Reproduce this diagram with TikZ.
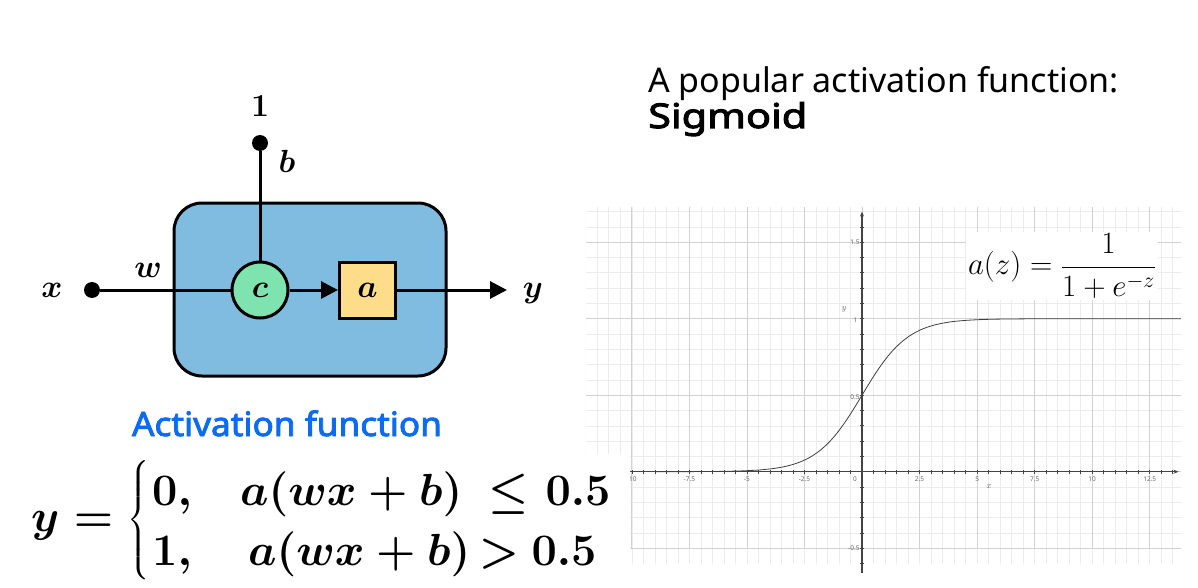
\RequirePackage{fix-cm}
\documentclass[tikz,border=0pt]{standalone}
\usepackage[no-math]{fontspec}
\usepackage{amsmath}
\usetikzlibrary{arrows.meta}
\newfontfamily\uisans{Noto Sans}
\newfontfamily\uisansb{Noto Sans}[FakeBold=2.5,FakeStretch=1.05]
\newfontfamily\uisansw{Noto Sans}[FakeBold=3,FakeStretch=1.22]
\definecolor{boxblue}{HTML}{80BCE0}
\definecolor{cgreen}{HTML}{7EE3AE}
\definecolor{ayellow}{HTML}{FEDD8A}
\definecolor{actblue}{HTML}{0A6CF5}
\definecolor{gridminor}{HTML}{ECECEC}
\definecolor{gridmajor}{HTML}{D2D2D2}
\definecolor{axisgray}{HTML}{444444}
\definecolor{labgray}{HTML}{666666}
\tikzset{
  wire/.style={line width=3pt, draw=black},
  dotnode/.style={circle, fill=black, inner sep=0pt, minimum size=16pt},
  mlabel/.style={inner sep=0pt, font=\fontsize{32}{38}\selectfont\boldmath},
  eqpart/.style={inner sep=0pt, anchor=base, font=\fontsize{45}{54}\selectfont\boldmath},
  ticklab/.style={inner sep=0pt, font=\uisans\fontsize{6.5}{8}\selectfont, text=labgray},
  arrowtip/.style={-{Triangle[length=17pt,width=17pt]}}
}
\begin{document}
\begin{tikzpicture}[x=1pt,y=-1pt]
\useasboundingbox (0,0) rectangle (1198,588);
\fill[white] (0,0) rectangle (1198,588);
% ---------------- graph ----------------
\begin{scope}[shift={(862,471.7)}, x=23.02pt, y=153pt]
  \clip (-12,-0.66) rectangle (13.85,1.73);
  \draw[gridminor, line width=0.6pt] (-12,-0.6) grid[xstep=0.5, ystep=0.1] (13.85,1.73);
  \draw[gridmajor, line width=0.7pt] (-12,-0.5) grid[xstep=2.5, ystep=0.5] (13.85,1.73);
  \draw[axisgray, line width=1.1pt, -{Stealth[length=5pt,width=4pt]}] (-12,0) -- (13.75,0);
  \draw[axisgray, line width=1.1pt, -{Stealth[length=5pt,width=4pt]}] (0,-0.7) -- (0,1.7);
  \foreach \u in {-11.5,-11,...,13.5} \draw[axisgray, line width=0.6pt] (\u,-0.012) -- (\u,0.012);
  \foreach \v in {-0.6,-0.5,...,1.65} \draw[axisgray, line width=0.6pt] (-0.07,\v) -- (0.07,\v);
  \draw[black!75, line width=0.8pt, domain=-9:13.85, samples=160, smooth] plot (\x,{1/(1+exp(-\x))});
  \foreach \u/\t in {-10/-10,-7.5/-7.5,-5/-5,-2.5/-2.5,2.5/2.5,5/5,7.5/7.5,10/10,12.5/12.5}
    \node[ticklab] (xl\u) at (\u,-0.05) {\t};
  \node[ticklab] (xl0) at (-0.3,-0.05) {0};
  \node[ticklab, anchor=east] (yl15) at (-0.1,1.5) {1.5};
  \node[ticklab, anchor=east] (yl1) at (-0.2,0.99) {1};
  \node[ticklab, anchor=east] (yl05) at (-0.1,0.49) {0.5};
  \node[ticklab, anchor=east] (ylm05) at (-0.1,-0.5) {-0.5};
  \node[inner sep=0pt, font=\fontsize{9}{10}\selectfont\itshape, text=labgray] (xname) at (5.5,-0.1) {x};
  \node[inner sep=0pt, font=\fontsize{9}{10}\selectfont\itshape, text=labgray] (yname) at (-0.8,1.06) {y};
\end{scope}
\node[fill=white, inner sep=2pt, font=\fontsize{31}{37}\selectfont] (sig) at (1062,266) {$a(z)=\dfrac{1}{1+e^{-z}}$};
% white patch of the formula block
\fill[white] (575,454) rectangle (630,590);
% ---------------- titles ----------------
\node[anchor=base west, inner sep=0pt, font=\uisans\fontsize{34}{40}\selectfont] (t1) at (648,93) {A popular activation function:};
\node[anchor=base west, inner sep=0pt, font=\uisansw\fontsize{34}{40}\selectfont] (t2) at (648,128) {Sigmoid};
% ---------------- neuron ----------------
\node[draw=black, line width=3pt, fill=boxblue, rounded corners=28pt, minimum width=272pt, minimum height=173pt, inner sep=0pt] (box) at (310,289.5) {};
\node[dotnode] (xin) at (92,290) {};
\node[dotnode] (bias) at (260,143) {};
\coordinate (yout) at (507,290);
\node[draw=black, line width=3pt, fill=cgreen, circle, minimum size=56pt, inner sep=0pt] (c) at (260,290) {};
\node[draw=black, line width=3pt, fill=ayellow, minimum size=56pt, inner sep=0pt] (a) at (367.5,290) {};
\draw[wire] (xin) -- (c);
\draw[wire] (bias) -- (c);
\draw[wire, arrowtip] (c) -- (a);
\draw[wire, arrowtip] (a) -- (yout);
\node[mlabel] (cl) at (c) {$c$};
\node[mlabel] (al) at (a) {$a$};
\node[mlabel] (xlab) at (52,290) {$x$};
\node[mlabel] (wlab) at (148,270) {$w$};
\node[mlabel] (onelab) at (260,106) {$1$};
\node[mlabel] (blab) at (287,161) {$b$};
\node[mlabel] (ylab) at (533,293) {$y$};
% ---------------- activation function ----------------
\node[anchor=base, inner sep=0pt, font=\uisansb\fontsize{33.5}{40}\selectfont, text=actblue] (act) at (287,436) {Activation function};
% ---------------- piecewise formula ----------------
\node[anchor=west, inner sep=0pt, font=\fontsize{45}{54}\selectfont\boldmath] (eqlhs) at (31,520)
  {$y=\left\{\rule[-50pt]{0pt}{122pt}\right.$};
\node[eqpart, anchor=base west] (r1a) at (152,505) {$0,$};
\node[eqpart, anchor=base west] (r1b) at (240,505) {$a(wx+b)$};
\node[eqpart] (r1c) at (509,505) {$\le$};
\node[eqpart] (r1d) at (578,505) {$0.5$};
\node[eqpart, anchor=base west] (r2a) at (152,565) {$1,$};
\node[eqpart, anchor=base west] (r2b) at (248,565) {$a(wx+b)$};
\node[eqpart] (r2c) at (499,565) {$>$};
\node[eqpart] (r2d) at (564,565) {$0.5$};
\end{tikzpicture}
\end{document}
